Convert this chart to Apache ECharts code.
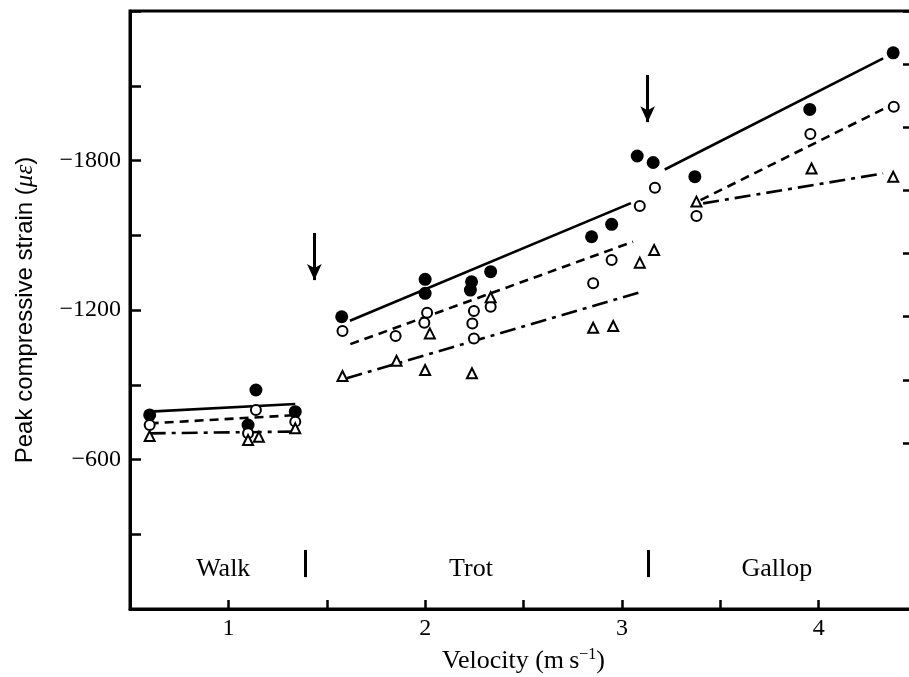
<!DOCTYPE html>
<html>
<head>
<meta charset="utf-8">
<script src="https://cdn.jsdelivr.net/npm/echarts@6/dist/echarts.min.js"></script>
<style>html,body{margin:0;padding:0;background:#fff;}#c{width:909px;height:677px;}</style>
</head>
<body>
<div id="c"></div>
<script>
// ---- data ----
const filledX = [0.60, 1.14, 1.10, 1.34, 1.576, 2.00, 2.00, 2.236, 2.23, 2.333, 2.846, 2.948, 3.078, 3.159, 3.371, 3.955, 4.379];
const filledY = [-779, -879, -738, -792, -1173, -1323, -1267, -1313, -1280, -1354, -1494, -1544, -1818, -1792, -1735, -2005, -2232];

const openX = [0.60, 1.14, 1.10, 1.34, 1.58, 1.85, 2.01, 1.996, 2.248, 2.24, 2.248, 2.333, 2.854, 2.948, 3.091, 3.168, 3.379, 3.958, 4.382];
const openY = [-738, -799, -705, -752, -1116, -1096, -1189, -1149, -1196, -1146, -1086, -1213, -1307, -1401, -1617, -1691, -1577, -1906, -2016];

const triX = [0.60, 1.155, 1.10, 1.34, 1.58, 1.855, 2.024, 2.00, 2.238, 2.333, 2.854, 2.956, 3.091, 3.164, 3.379, 3.964, 4.379];
const triY = [-694, -691, -678, -725, -935, -996, -1106, -959, -946, -1251, -1129, -1136, -1390, -1441, -1635, -1768, -1735];

// regression segments per gait (walk, trot, gallop): [start, end]
const solidFitX = [[0.60, 1.34], [1.618, 3.046], [3.218, 4.328]];
const solidFitY = [[-792, -823], [-1157, -1629], [-1764, -2210]];
const dashFitX = [[0.60, 1.34], [1.62, 3.057], [3.40, 4.345]];
const dashFitY = [[-745, -778], [-1063, -1474], [-1641, -2013]];
const dotFitX = [[0.60, 1.34], [1.601, 3.10], [3.413, 4.328]];
const dotFitY = [[-705, -712], [-926, -1273], [-1628, -1748]];

// gait annotations
const gaitLabels = ['Walk', 'Trot', 'Gallop'];
const gaitLabelX = [0.974, 2.233, 3.788];
const gaitLabelY = -160;
const gaitBoundaryX = [1.389, 3.134];
const gaitBoundaryY = [-237, -128];
const arrowX = [1.437, 3.131];
const arrowFromY = [-1509, -2143];
const arrowToY = [-1320, -1954];

// axis ticks
const yLabelled = [-600, -1200, -1800];
const xLabelled = [1, 2, 3, 4];

const zip = (xs, ys) => xs.map((x, i) => [x, ys[i]]);
const SERIF = '"Liberation Serif","DejaVu Serif",serif';
const SANS = '"Liberation Sans","DejaVu Sans",sans-serif';

const series = [];
function fitSeries(xs, ys, type) {
  xs.forEach((seg, i) => {
    series.push({
      type: 'line', xAxisIndex: 0, yAxisIndex: 0, symbol: 'none', silent: true, z: 2,
      data: zip(seg, ys[i]),
      lineStyle: { color: '#000', width: 2.6, type: type, cap: 'butt', opacity: 1 }
    });
  });
}
fitSeries(solidFitX, solidFitY, 'solid');
fitSeries(dashFitX, dashFitY, [9, 6]);
fitSeries(dotFitX, dotFitY, [16, 6, 4, 6]);

series.push({
  type: 'scatter', name: 'filled', z: 5, symbol: 'circle', symbolSize: 13,
  data: zip(filledX, filledY), itemStyle: { color: '#000', opacity: 1 }
});
series.push({
  type: 'scatter', name: 'open', z: 6, symbol: 'circle', symbolSize: 10,
  data: zip(openX, openY), itemStyle: { color: '#fff', borderColor: '#000', borderWidth: 2, opacity: 1 }
});
series.push({
  type: 'scatter', name: 'triangle', z: 6, symbol: 'triangle', symbolSize: 10,
  data: zip(triX, triY), itemStyle: { color: '#fff', borderColor: '#000', borderWidth: 2, opacity: 1 }
});
// gait labels
series.push({
  type: 'scatter', symbolSize: 1, silent: true, z: 7,
  itemStyle: { opacity: 0 },
  data: gaitLabels.map((t, i) => ({ value: [gaitLabelX[i], gaitLabelY], name: t })),
  label: { show: true, position: 'inside', formatter: p => p.name, color: '#000', opacity: 1, fontFamily: SERIF, fontSize: 26 }
});
// boundaries & arrows
series.push({
  type: 'line', data: [], silent: true,
  markLine: {
    silent: true, animation: false,
    label: { show: false },
    data: gaitBoundaryX.map(x => [
      { coord: [x, gaitBoundaryY[0]], symbol: 'none' },
      { coord: [x, gaitBoundaryY[1]], symbol: 'none' }
    ]).concat(arrowX.map((x, i) => [
      { coord: [x, arrowFromY[i]], symbol: 'none' },
      { coord: [x, arrowToY[i]], symbol: 'arrow', symbolSize: [11, 16] }
    ])),
    lineStyle: { color: '#000', width: 3, type: 'solid', opacity: 1 }
  }
});

const option = {
  animation: false,
  backgroundColor: '#fff',
  grid: [
    { left: 130, width: 787, top: 11, bottom: 68, show: true, borderColor: '#000', borderWidth: 3, outerBoundsMode: 'none', containLabel: false },
    { left: 130, width: 787, top: 11, height: 432, outerBoundsMode: 'none', containLabel: false }
  ],
  xAxis: [
    {
      type: 'value', gridIndex: 0, min: 0.5, max: 4.5, interval: 0.5,
      axisLine: { onZero: false, lineStyle: { color: '#000', width: 3 } },
      axisTick: { inside: true, length: 9, lineStyle: { color: '#000', width: 2.5 } },
      splitLine: { show: false },
      axisLabel: {
        color: '#000', fontFamily: SERIF, fontSize: 24, margin: 8,
        formatter: v => (xLabelled.indexOf(v) >= 0 ? String(v) : '')
      },
      name: 'Velocity (m\u2009s{sup|\u22121})', nameLocation: 'middle', nameGap: 38,
      nameTextStyle: {
        color: '#000', fontFamily: SERIF, fontSize: 26,
        rich: { sup: { fontFamily: SERIF, fontSize: 16, color: '#000', padding: [0, 0, 12, 0] } }
      }
    },
    { type: 'value', gridIndex: 1, show: false, min: 0, max: 1 }
  ],
  yAxis: [
    {
      type: 'value', gridIndex: 0, min: -2400, max: 0, interval: 300, inverse: true,
      axisLine: { onZero: false, lineStyle: { color: '#000', width: 3 } },
      axisTick: { inside: true, length: 11, lineStyle: { color: '#000', width: 2.5 } },
      splitLine: { show: false },
      axisLabel: {
        color: '#000', fontFamily: SERIF, fontSize: 24, margin: 9,
        formatter: v => (yLabelled.indexOf(v) >= 0 ? '\u2212' + Math.abs(v) : '')
      },
      name: 'Peak compressive strain ({it|\u03bc\u03b5})', nameLocation: 'middle', nameGap: 92,
      nameTextStyle: {
        color: '#000', fontFamily: SANS, fontSize: 24,
        rich: { it: { fontFamily: SERIF, fontStyle: 'italic', fontSize: 25, color: '#000' } }
      }
    },
    {
      type: 'value', gridIndex: 1, position: 'right', min: 0, max: 6.84, interval: 1,
      axisLine: { show: false, onZero: false },
      axisTick: { inside: true, length: 14, lineStyle: { color: '#000', width: 2.5 } },
      axisLabel: { show: false }, splitLine: { show: false }
    }
  ],
  series: series
};

const chart = echarts.init(document.getElementById('c'), null, { renderer: 'canvas' });
chart.setOption(option);
</script>
</body>
</html>
